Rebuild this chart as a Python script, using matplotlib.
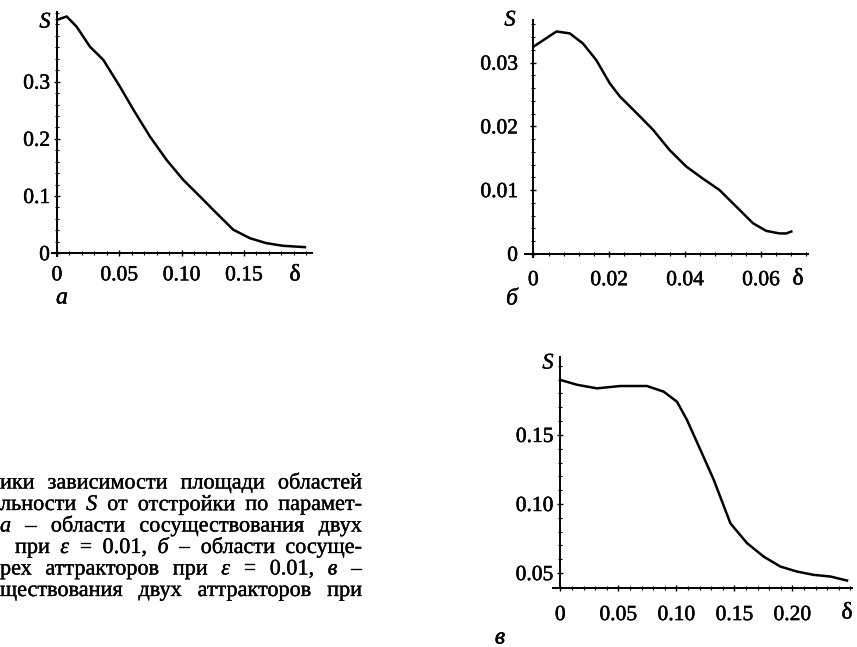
import matplotlib
matplotlib.use("Agg")
import matplotlib.pyplot as plt
import matplotlib.patheffects as pe
from matplotlib.ticker import FixedLocator, AutoMinorLocator

plt.rcParams['font.family'] = ['Liberation Serif', 'DejaVu Serif']

W, H = 857, 647
BOLD = [pe.withStroke(linewidth=0.35, foreground="black")]

# ---------------- data ----------------
# panel a
delta_a = [0.0, 0.0078, 0.0158, 0.0265, 0.0372, 0.0506, 0.0613, 0.0746, 0.088,
           0.1014, 0.1148, 0.128, 0.1415, 0.155, 0.168, 0.1816, 0.199]
S_a = [0.408, 0.414, 0.396, 0.361, 0.338, 0.291, 0.251, 0.204, 0.163,
       0.128, 0.099, 0.070, 0.041, 0.026, 0.0175, 0.0128, 0.0105]
xticks_a = [0, 0.05, 0.10, 0.15]
xlabels_a = ["0", "0.05", "0.10", "0.15"]
yticks_a = [0, 0.1, 0.2, 0.3]
ylabels_a = ["0", "0.1", "0.2", "0.3"]

# panel b
delta_b = [0.0, 0.0061, 0.0096, 0.0131, 0.0166, 0.0201, 0.0228, 0.0272, 0.0315,
           0.0359, 0.0403, 0.0447, 0.0491, 0.0535, 0.0579, 0.0614, 0.0649, 0.0667, 0.0680]
S_b = [0.0325, 0.0349, 0.0346, 0.0330, 0.0304, 0.0268, 0.0247, 0.0221, 0.0195,
       0.0163, 0.0137, 0.0118, 0.0100, 0.0074, 0.0048, 0.0036, 0.0032, 0.0032, 0.0035]
xticks_b = [0, 0.02, 0.04, 0.06]
xlabels_b = ["0", "0.02", "0.04", "0.06"]
yticks_b = [0, 0.01, 0.02, 0.03]
ylabels_b = ["0", "0.01", "0.02", "0.03"]

# panel c
delta_c = [0.0, 0.0144, 0.0316, 0.0517, 0.0747, 0.0891, 0.1006, 0.1092, 0.1207,
           0.1322, 0.1466, 0.1609, 0.1753, 0.1897, 0.2040, 0.2184, 0.2328, 0.2471]
S_c = [0.1898, 0.1863, 0.1837, 0.1854, 0.1854, 0.1813, 0.1740, 0.1608, 0.1393,
       0.1176, 0.0860, 0.0717, 0.0619, 0.0547, 0.0511, 0.0487, 0.0475, 0.0446]
xticks_c = [0, 0.05, 0.10, 0.15, 0.20]
xlabels_c = ["0", "0.05", "0.10", "0.15", "0.20"]
yticks_c = [0.05, 0.10, 0.15]
ylabels_c = ["0.05", "0.10", "0.15"]

caption_lines = [
    [("ики", "normal"), ("зависимости", "normal"), ("площади", "normal"), ("областей", "normal")],
    [("льности", "normal"), ("S", "italic"), ("от", "normal"), ("отстройки", "normal"),
     ("по", "normal"), ("парамет-", "normal")],
    [("а", "italic"), ("–", "normal"), ("области", "normal"), ("сосуществования", "normal"),
     ("двух", "normal")],
    [("при", "normal"), ("ε", "italic"), ("=", "normal"), ("0.01,", "normal"), ("б", "italic"),
     ("–", "normal"), ("области", "normal"), ("сосуще-", "normal")],
    [("рех", "normal"), ("аттракторов", "normal"), ("при", "normal"), ("ε", "italic"),
     ("=", "normal"), ("0.01,", "normal"), ("в", "italic"), ("–", "normal")],
    [("ществования", "normal"), ("двух", "normal"), ("аттракторов", "normal"), ("при", "normal")],
]

# ---------------- figure ----------------
fig = plt.figure(figsize=(W / 100, H / 100), dpi=100)


def px_axes(left, right, top, bottom):
    return fig.add_axes([left / W, 1 - bottom / H, (right - left) / W, (bottom - top) / H])


def style(ax, xt, xl, yt, yl, xlim, ylim, xpad, ypad, bottom_at_zero=True):
    ax.set_xlim(*xlim)
    ax.set_ylim(*ylim)
    for s in ("top", "right"):
        ax.spines[s].set_visible(False)
    ax.spines["left"].set_position(("data", 0))
    if bottom_at_zero:
        ax.spines["bottom"].set_position(("data", 0))
    for s in ("left", "bottom"):
        ax.spines[s].set_linewidth(1.4)
    ax.xaxis.set_major_locator(FixedLocator(xt))
    ax.set_xticklabels(xl)
    ax.yaxis.set_major_locator(FixedLocator(yt))
    ax.set_yticklabels(yl)
    ax.xaxis.set_minor_locator(AutoMinorLocator(5))
    ax.yaxis.set_minor_locator(AutoMinorLocator(5))
    ax.tick_params(which="major", direction="inout", length=4, width=1.0, labelsize=15.5)
    ax.tick_params(which="minor", direction="inout", length=2.2, width=0.8)
    ax.tick_params(axis="x", which="major", pad=xpad)
    ax.tick_params(axis="y", which="major", pad=ypad)
    for lab in ax.get_xticklabels() + ax.get_yticklabels():
        lab.set_path_effects(BOLD)
    ax.patch.set_alpha(0)


def ftext(x, y, s, **kw):
    fig.text(x / W, 1 - y / H, s, path_effects=BOLD, **kw)


# panel a
ax_a = px_axes(52, 312, 12, 256)
ax_a.plot(delta_a, S_a, color="black", lw=1.8)
style(ax_a, xticks_a, xlabels_a, yticks_a, ylabels_a, (-0.004, 0.2047), (-0.005, 0.4218),
      xpad=7.5, ypad=3)
ftext(45, 23, "S", fontsize=16, style="italic", ha="center", va="center")
ftext(295, 275, "δ", fontsize=17, ha="center", va="center")
ftext(62, 298, "а", fontsize=17, style="italic", ha="center", va="center")

# panel b
ax_b = px_axes(525, 808, 20, 257)
ax_b.plot(delta_b, S_b, color="black", lw=1.8)
style(ax_b, xticks_b, xlabels_b, yticks_b, ylabels_b, (-0.0022, 0.0724), (-0.0005, 0.0367),
      xpad=10.5, ypad=9)
ftext(510, 21, "S", fontsize=16, style="italic", ha="center", va="center")
ftext(798, 279, "δ", fontsize=17, ha="center", va="center")
ftext(512, 299, "б", fontsize=17, style="italic", ha="center", va="center")

# panel c
ax_c = px_axes(553, 852, 357, 588)
ax_c.plot(delta_c, S_c, color="black", lw=1.8)
style(ax_c, xticks_c, xlabels_c, yticks_c, ylabels_c, (-0.0063, 0.2514), (0.0392, 0.2064),
      xpad=11, ypad=3, bottom_at_zero=False)
ftext(548, 364, "S", fontsize=16, style="italic", ha="center", va="center")
ftext(847, 613, "δ", fontsize=17, ha="center", va="center")
ftext(500, 638, "в", fontsize=17, style="italic", ha="center", va="center")

# caption (justified lines)
cap_fs = 16
line_y = [484, 505.5, 527, 548.5, 570, 591.5]
line_x0 = [0, 0, 0, 15, 0, 0]
x1 = 362
fig.canvas.draw()
r = fig.canvas.get_renderer()
for words, y, x0 in zip(caption_lines, line_y, line_x0):
    texts = [fig.text(0, 1 - y / H, w, fontsize=cap_fs, style=st, va="center", ha="left",
                      path_effects=[pe.withStroke(linewidth=0.25, foreground="black")])
             for w, st in words]
    widths = [t.get_window_extent(r).width for t in texts]
    gap = (x1 - x0 - sum(widths)) / (len(texts) - 1)
    x = x0
    for t, wd in zip(texts, widths):
        t.set_position((x / W, 1 - y / H))
        x += wd + gap

fig.savefig("out.png", dpi=100)
